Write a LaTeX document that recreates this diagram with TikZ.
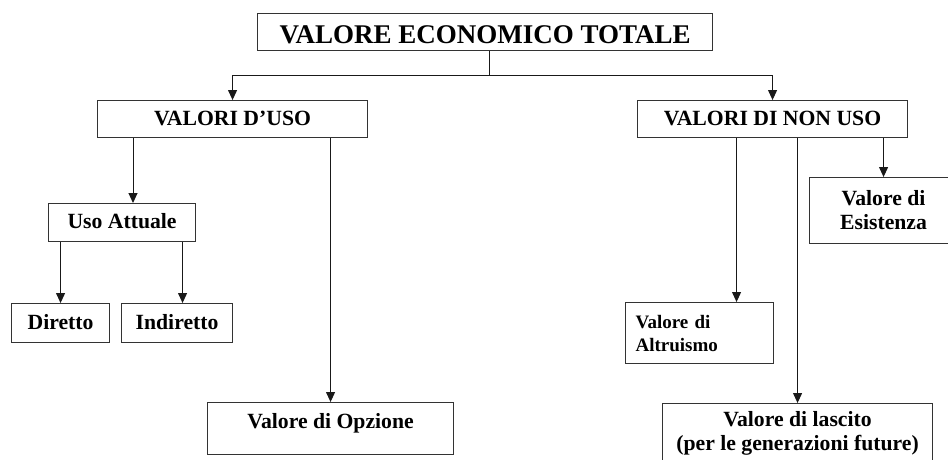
\documentclass[tikz,border=0pt]{standalone}
\usepackage{fontspec}
\setmainfont{Liberation Serif}
\usetikzlibrary{arrows.meta}
\begin{document}
\begin{tikzpicture}[x=1pt,y=-1pt,
  box/.style={draw=black!80, line width=1.1pt, inner xsep=0pt, inner ysep=0pt, anchor=north west, font=\fontsize{21.7}{24}\selectfont\bfseries},
  conn/.style={line width=1pt, draw=black!90},
  arr/.style={conn, -{Triangle[width=9pt,length=10pt]}}]
\useasboundingbox (0,0) rectangle (948,459);
\node[box, minimum width=455, text height=30, text depth=7, font=\fontsize{27}{30}\selectfont\bfseries] (vet) at (257,13) {VALORE ECONOMICO TOTALE};
\node[box, minimum width=270, text height=25, text depth=12] (vuso) at (97,100) {VALORI D’USO};
\node[box, minimum width=270, text height=25, text depth=12] (vnuso) at (637,100) {VALORI DI NON USO};
\node[box, minimum width=147, text height=25, text depth=13] (ua) at (48,203) {Uso Attuale};
\node[box, minimum width=98, text height=26, text depth=13] (dir) at (11,303) {Diretto};
\node[box, minimum width=111, text height=26, text depth=13] (ind) at (121,303) {Indiretto};
\node[box, minimum width=246, text height=26, text depth=26] (opz) at (207,402) {Valore di Opzione};
\node[box, text width=128, inner xsep=10pt, minimum height=61, align=left, font=\fontsize{19}{23}\selectfont\bfseries] (alt) at (625,302) {Valore di\\Altruismo};
\node[box, minimum width=148, minimum height=66, align=center] (esi) at (809,177) {Valore di\\Esistenza};
\node[box, minimum width=270, minimum height=59, align=center] (las) at (662,403) {Valore di lascito\\(per le generazioni future)};
\coordinate (j) at (489,75);
\draw[conn] (vet.south -| j) -- (j);
\draw[arr] (j) -| (vuso.north);
\draw[arr] (j) -| (vnuso.north);
\draw[arr] ([xshift=36pt]vuso.south west) -- ([xshift=36pt]vuso.south west |- ua.north);
\draw[arr] (ua.south -| dir.north) -- (dir.north);
\draw[arr] ([xshift=5.5pt]ind.north |- ua.south) -- ([xshift=5.5pt]ind.north);
\draw[arr] (vuso.south -| opz.north) -- (opz.north);
\draw[arr] ([xshift=37pt]alt.north |- vnuso.south) -- ([xshift=37pt]alt.north);
\draw[arr] (vnuso.south -| las.north) -- (las.north);
\draw[arr] (vnuso.south -| esi.north) -- (esi.north);
\end{tikzpicture}
\end{document}
